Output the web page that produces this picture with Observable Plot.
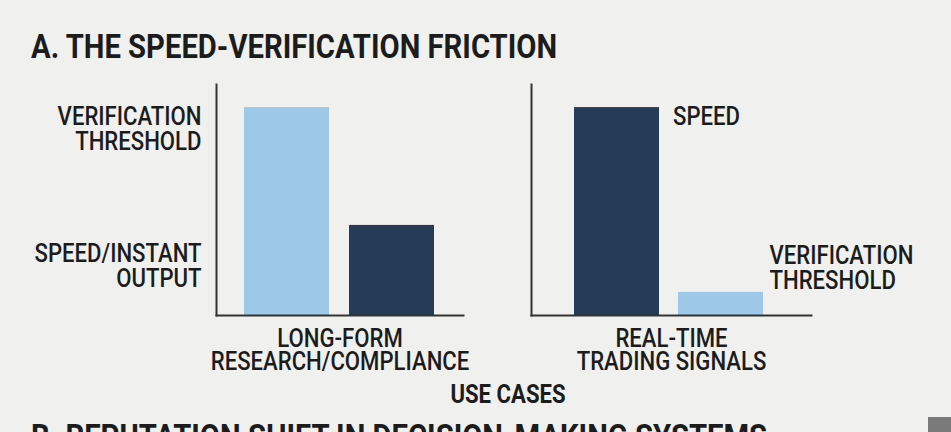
<!DOCTYPE html>
<html><head><meta charset="utf-8">
<script src="https://cdn.jsdelivr.net/npm/d3@7"></script>
<script src="https://cdn.jsdelivr.net/npm/@observablehq/plot@0.6"></script>
<style>
html,body{margin:0;padding:0;background:#f0f0ee;}
#root{position:relative;width:951px;height:432px;overflow:hidden;background:#f0f0ee;font-family:Roboto,"Noto Sans",sans-serif;color:#1c1c1c;}
.abs{position:absolute;white-space:nowrap;line-height:1;}
.title{font-size:34px;font-weight:700;transform-origin:0 0;}
.panel{position:absolute;top:0;}
</style></head>
<body><div id="root">
<div class="abs title" id="titleA" style="left:31px;top:28.5px;">A. THE SPEED-VERIFICATION FRICTION</div>
<div class="abs" id="axisTitle" style="font-size:25px;font-weight:700;left:508px;top:382px;transform-origin:0 0;">USE CASES</div>
<div class="abs title" id="titleB" style="left:31px;top:418.5px;">B. REPUTATION SHIFT IN DECISION-MAKING SYSTEMS</div>
<div class="abs" style="left:928px;top:417px;width:23px;height:15px;background:#7a7a7a;"></div>
</div>
<script>
// ---- data ----
const useCases = ["LONG-FORM\nRESEARCH/COMPLIANCE", "REAL-TIME\nTRADING SIGNALS"];
const seriesNames = ["verification", "speed"];
const seriesColors = ["#9dc8e8", "#253b57"];
// panel A1: long-form research / compliance (order: verification, speed)
const longFormSeries = ["verification", "speed"];
const longFormValues = [90, 39];
const longFormLabels = ["VERIFICATION\nTHRESHOLD", "SPEED/INSTANT\nOUTPUT"];
const longFormLabelAt = [90, 31];
// panel A2: real-time trading signals (order: speed, verification)
const realTimeSeries = ["speed", "verification"];
const realTimeValues = [90, 10];
const realTimeLabels = ["SPEED", "VERIFICATION\nTHRESHOLD"];
const realTimeLabelAt = [90, 30];

const K_LABEL = 0.885; // condensed look for labels
const K_TITLE = 0.86;  // condensed look for titles
const ink = "#1c1c1c";
const axisInk = "#333333";
const labelFont = {background: "transparent", fontFamily: "Roboto, 'Noto Sans', sans-serif", fontSize: "25px", fontWeight: 500, color: ink, overflow: "visible"};

function condense(svg, k) {
  svg.querySelectorAll("text").forEach(t => {
    const spans = t.querySelectorAll("tspan");
    const els = spans.length ? [...spans] : [t];
    els.forEach(e => {
      const L = e.getComputedTextLength();
      e.setAttribute("textLength", (L * k).toFixed(2));
      e.setAttribute("lengthAdjust", "spacingAndGlyphs");
    });
  });
}

const root = document.getElementById("root");

// left panel
const left = Plot.plot({
  width: 480, height: 432,
  marginLeft: 216, marginRight: 17, marginTop: 84, marginBottom: 117,
  style: labelFont,
  x: {domain: longFormSeries, paddingInner: 0.19, paddingOuter: 0.271, align: 0.49, axis: null},
  y: {domain: [0, 100], axis: null},
  color: {domain: seriesNames, range: seriesColors},
  marks: [
    Plot.barY(longFormSeries.map((s, i) => ({s, v: longFormValues[i]})), {x: "s", y: "v", fill: "s"}),
    Plot.frame({anchor: "left", stroke: axisInk, strokeWidth: 2}),
    Plot.frame({anchor: "bottom", stroke: axisInk, strokeWidth: 2}),
    Plot.text(longFormLabels.map((l, i) => ({l, y: longFormLabelAt[i]})), {frameAnchor: "left", y: "y", text: "l", textAnchor: "end", lineAnchor: "top", dx: -15, lineHeight: 1.0, fill: ink}),
    Plot.text([useCases[0]], {frameAnchor: "bottom", text: d => d, lineAnchor: "top", dy: 15, lineHeight: 0.93, fill: ink})
  ]
});
left.classList.add("panel");
left.style.left = "0px";
root.appendChild(left);

// right panel
const right = Plot.plot({
  width: 471, height: 432,
  marginLeft: 51, marginRight: 140, marginTop: 84, marginBottom: 117,
  style: labelFont,
  x: {domain: realTimeSeries, paddingInner: 0.183, paddingOuter: 0.4375, align: 0.4725, axis: null},
  y: {domain: [0, 100], axis: null},
  color: {domain: seriesNames, range: seriesColors},
  marks: [
    Plot.barY(realTimeSeries.map((s, i) => ({s, v: realTimeValues[i]})), {x: "s", y: "v", fill: "s"}),
    Plot.frame({anchor: "left", stroke: axisInk, strokeWidth: 2}),
    Plot.frame({anchor: "bottom", stroke: axisInk, strokeWidth: 2}),
    Plot.text([{s: realTimeSeries[0], l: realTimeLabels[0], y: realTimeLabelAt[0]}], {x: "s", y: "y", text: "l", textAnchor: "start", lineAnchor: "top", dx: 56, fill: ink}),
    Plot.text([{s: realTimeSeries[1], l: realTimeLabels[1], y: realTimeLabelAt[1]}], {x: "s", y: "y", text: "l", textAnchor: "start", lineAnchor: "top", dx: 48.5, lineHeight: 1.0, fill: ink}),
    Plot.text([useCases[1]], {frameAnchor: "bottom", text: d => d, lineAnchor: "top", dy: 15, lineHeight: 0.93, fill: ink})
  ]
});
right.classList.add("panel");
right.style.left = "480px";
root.appendChild(right);

condense(left, K_LABEL);
condense(right, K_LABEL);
document.getElementById("titleA").style.transform = `scaleX(${K_TITLE})`;
document.getElementById("titleB").style.transform = `scaleX(${K_TITLE})`;
const at = document.getElementById("axisTitle");
at.style.transformOrigin = "0 0";
at.style.transform = `scaleX(${K_LABEL}) translateX(-50%)`;
</script>
</body></html>
